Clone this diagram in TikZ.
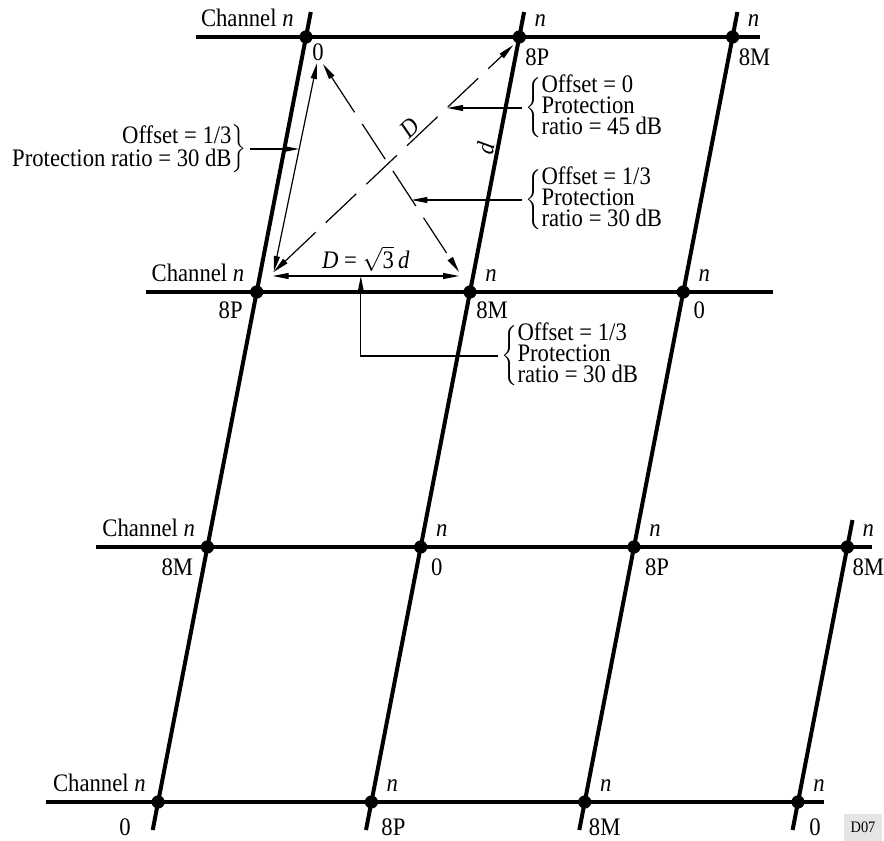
\documentclass[tikz,border=0pt]{standalone}
\usepackage{fontspec}
\setmainfont{Liberation Serif}[FakeStretch=0.9]
\usepackage{tikz}
\usetikzlibrary{arrows.meta, positioning, calc}
\renewcommand{\arraystretch}{0.8}

\begin{document}
\begin{tikzpicture}[
    x=0.5pt, y=-0.5pt,
    font=\fontsize{12.6}{12.6}\selectfont,
    site/.style={circle, fill=black, inner sep=0pt, minimum size=6.6pt},
    chan/.style={line width=2pt},
    lbl/.style={anchor=base, inner sep=0pt},
    dimline/.style={line width=0.6pt, >={Triangle[length=8pt,width=3pt]}},
    dashline/.style={dash pattern=on 21pt off 7pt},
    note/.style={inner sep=1.5pt}
]
\useasboundingbox (0,0) rectangle (884,841);

% Transmitter sites
\foreach \c/\r in {0/0,1/0,2/0,0/1,1/1,2/1,0/2,1/2,2/2,3/2,0/3,1/3,2/3,3/3} {
    \node[site] (d-\c-\r) at ({306+213.3*\c-49.3*\r},{37+255*\r}) {};
}

% Channel lines
\draw[chan] ($(d-0-0)+(-110,0)$) -- ($(d-2-0)+(27,0)$);
\draw[chan] ($(d-0-1)+(-111,0)$) -- ($(d-2-1)+(90,0)$);
\draw[chan] ($(d-0-2)+(-111,0)$) -- ($(d-3-2)+(25,0)$);
\draw[chan] ($(d-0-3)+(-112,0)$) -- ($(d-3-3)+(26,0)$);
\foreach \c in {0,1,2} {
    \draw[chan] ($(d-\c-0)+(4.8,-25)$) -- ($(d-\c-3)+(-5.4,28)$);
}
\draw[chan] ($(d-3-2)+(5.2,-27)$) -- ($(d-3-3)+(-5.4,28)$);

% Labels
\foreach \r in {0,...,3} {
    \node[lbl, anchor=base east] (ch-\r) at ($(d-0-\r)+(-12,-11)$) {Channel \textit{n}};
}
\foreach \c/\r in {1/0,2/0,1/1,2/1,1/2,2/2,3/2,1/3,2/3,3/3} {
    \node[lbl] (n-\c-\r) at ($(d-\c-\r)+(21,-11)$) {\textit{n}};
}
\foreach \c/\r/\dx/\dy/\txt in {0/0/12/23/0, 1/0/18/28/8P, 2/0/22/28/8M,
    0/1/-26/26/8P, 1/1/22/26/8M, 2/1/16/26/0,
    0/2/-30/28/8M, 1/2/16/28/0, 2/2/23/28/8P, 3/2/21/28/8M,
    0/3/-33/33/0, 1/3/22/33/8P, 2/3/20/33/8M, 3/3/17/33/0} {
    \node[lbl] (s-\c-\r) at ($(d-\c-\r)+(\dx,\dy)$) {\txt};
}

% Distances
\coordinate (pA) at ($(d-0-1)+(17,-20)$);
\coordinate (pB) at ($(d-0-0)+(11,26)$);
\coordinate (pB2) at ($(d-0-0)+(17,27)$);
\coordinate (pC) at ($(d-1-0)+(-6,8)$);
\coordinate (pE) at ($(d-1-1)+(-11,-20)$);
\coordinate (hA) at ($(d-0-1)+(16,-16)$);
\coordinate (hE) at ($(d-1-1)+(-11,-16)$);

\draw[dimline, <->] (pB) -- coordinate[pos=0.415] (mL) (pA);
\draw[dimline, dashline, <->] (pA) -- node[sloped, above, pos=0.6, inner sep=1pt] (lD) {\textit{D}}
    coordinate[pos=0.724] (m1) (pC);
\draw[dimline, dashline, <->] (pB2) -- coordinate[pos=0.65] (m2) (pE);
\draw[dimline, <->] (hA) -- node[above, inner sep=2pt] (lDd) {\textit{D} = $\sqrt{\textrm{3}}$\,\textit{d}}
    coordinate[pos=0.473] (m3) (hE);
\path (d-1-1) -- node[sloped, above, pos=0.557, inner sep=1.5pt] (ld) {\textit{d}} (d-1-0);

% Notes
\node[note, anchor=east] (noteL) at (250,149)
    {$\left.\begin{tabular}{@{}r@{}}Offset = 1/3\\Protection ratio = 30 dB\end{tabular}\right\}$};
\node[note, anchor=west] (note1) at (522,108)
    {$\left\{\begin{tabular}{@{}l@{}}Offset = 0\\[-1pt]Protection\\[-1pt]ratio = 45 dB\end{tabular}\right.$};
\node[note, anchor=west] (note2) at (522,200)
    {$\left\{\begin{tabular}{@{}l@{}}Offset = 1/3\\[-1pt]Protection\\[-1pt]ratio = 30 dB\end{tabular}\right.$};
\node[note, anchor=west] (note3) at (498,356)
    {$\left\{\begin{tabular}{@{}l@{}}Offset = 1/3\\[-1pt]Protection\\[-1pt]ratio = 30 dB\end{tabular}\right.$};

\draw[dimline, ->] (noteL.east) -- (noteL.east -| mL);
\draw[dimline, ->] (note1.west) -- (note1.west -| m1);
\draw[dimline, ->] (note2.west) -- (note2.west -| m2);
\draw[dimline, ->] (note3.west) -| (m3);

% Figure tag
\node[fill=black!10, font=\fontsize{8}{9}\selectfont, minimum width=19pt, minimum height=13.5pt,
    inner sep=1pt] (tag) at (863,827) {D07};

\end{tikzpicture}
\end{document}
